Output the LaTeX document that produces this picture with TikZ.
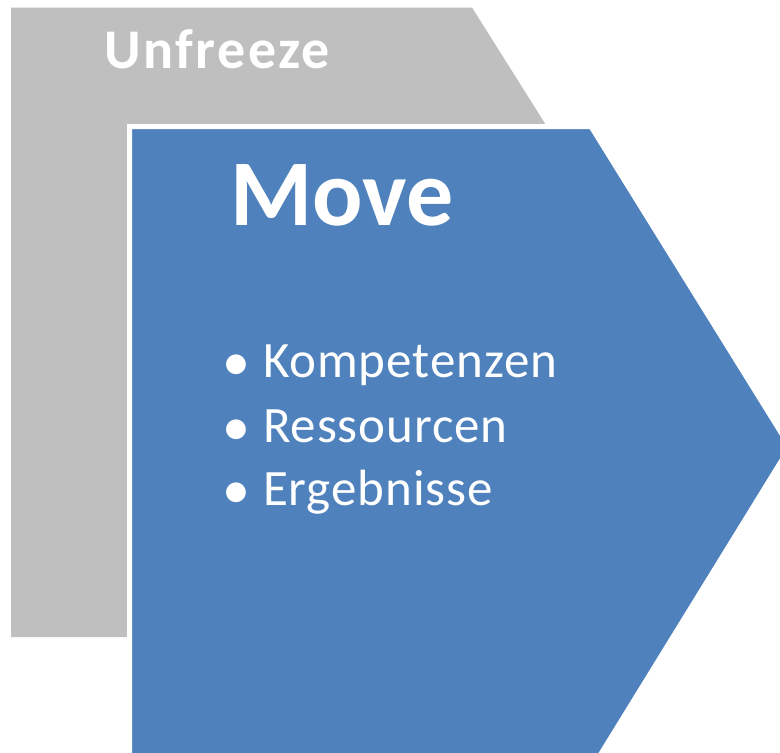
\documentclass[tikz,border=0pt]{standalone}
\usepackage{fontspec}
\setmainfont{Carlito}
\definecolor{gfill}{HTML}{BFBFBF}
\definecolor{bfill}{HTML}{4F81BD}
\tikzset{
  label text/.style={text=white, inner sep=0pt, outer sep=0pt, anchor=base west},
  big title/.style={label text, font=\bfseries\fontsize{94}{110}\selectfont},
  small title/.style={label text, font=\bfseries\fontsize{56}{66}\selectfont\addfontfeatures{LetterSpace=4.5}},
  item text/.style={label text, font=\fontsize{51}{60}\selectfont\addfontfeatures{LetterSpace=1.8}},
  bullet text/.style={label text, font=\fontsize{56}{60}\selectfont},
}
\begin{document}
\begin{tikzpicture}[x=1pt,y=-1pt]
\useasboundingbox (0,0) rectangle (780,753);
\clip (0,0) rectangle (780,753);
\fill[gfill] (11,7.5) -- (472,7.5) -- (670,322) -- (472,637) -- (11,637) -- cycle;
\filldraw[fill=bfill, draw=white, line width=5pt, line join=miter] (129.5,126.5) -- (591,126.5) -- (790,447) -- (591,770) -- (129.5,770) -- cycle;
\node[small title] (unfreeze) at (104,68) {Unfreeze};
\node[big title] (move) at (230,225) {Move};
\node[bullet text] (b1) at (222,380) {•};
\node[item text] (i1) at (263,377) {Kompetenzen};
\node[bullet text] (b2) at (222,445) {•};
\node[item text] (i2) at (263,442) {Ressourcen};
\node[bullet text] (b3) at (222,508) {•};
\node[item text] (i3) at (263,505) {Ergebnisse};
\end{tikzpicture}
\end{document}
